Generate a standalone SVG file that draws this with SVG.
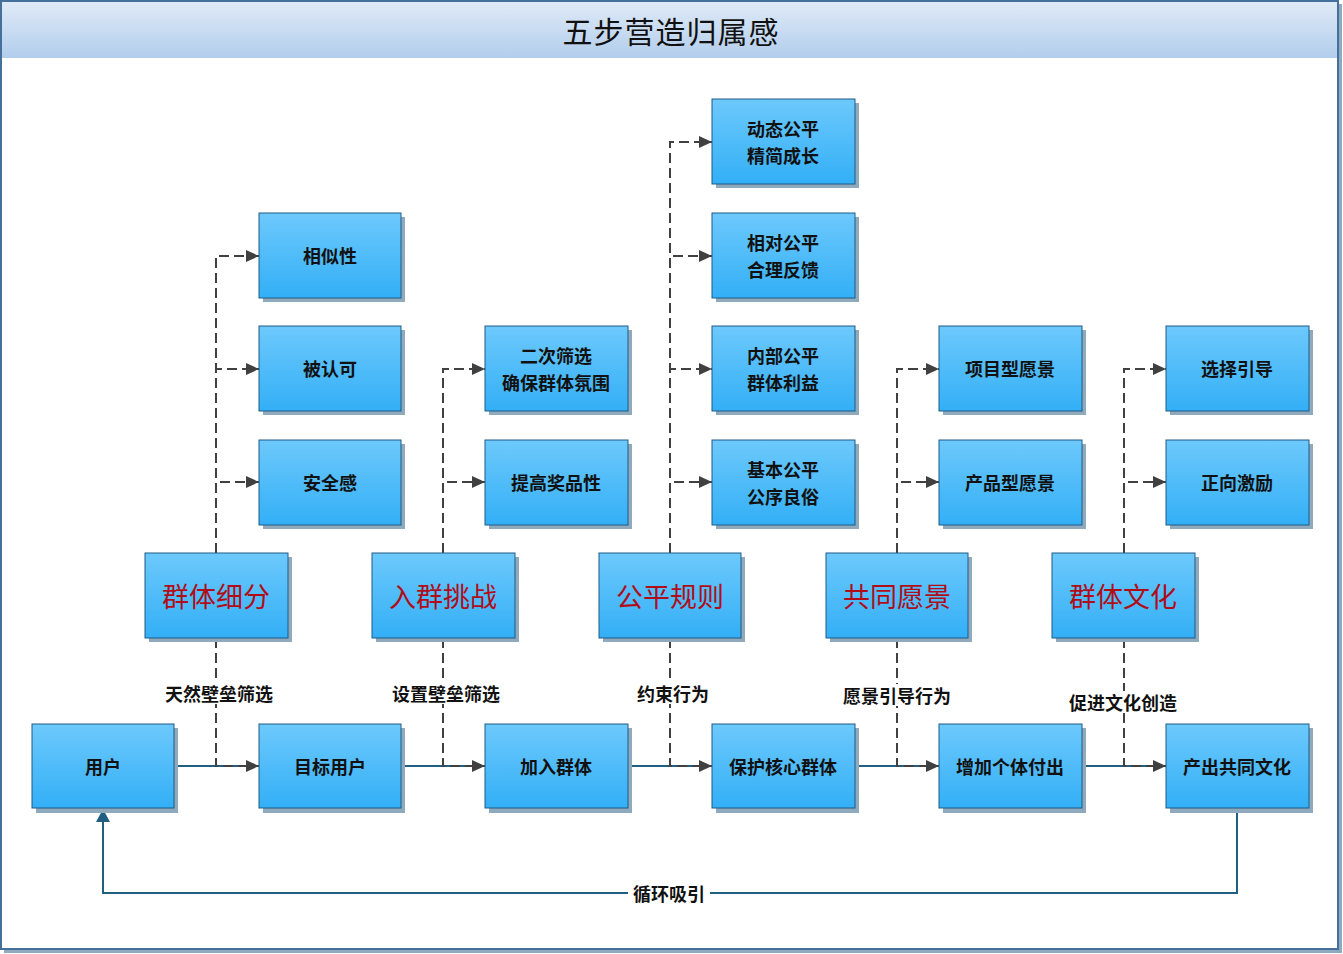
<svg xmlns="http://www.w3.org/2000/svg" width="1343" height="954" viewBox="0 0 1343 954">
<defs>
<linearGradient id="gTitle" x1="0" y1="0" x2="0" y2="1">
<stop offset="0" stop-color="#dfeaf7"/>
<stop offset="1" stop-color="#b2cdec"/>
</linearGradient>
<linearGradient id="gNode" x1="0" y1="0" x2="0" y2="1">
<stop offset="0" stop-color="#6dc9fc"/>
<stop offset="1" stop-color="#33aff6"/>
</linearGradient>
<marker id="aGray" markerUnits="userSpaceOnUse" markerWidth="14" markerHeight="12" refX="13" refY="6" orient="auto">
<path d="M0,0 L13,6 L0,12 z" fill="#404040"/>
</marker>
<marker id="aBlue" markerUnits="userSpaceOnUse" markerWidth="14" markerHeight="14" refX="13" refY="7" orient="auto">
<path d="M0,0 L13,7 L0,14 z" fill="#215f82"/>
</marker>
</defs>
<style>
.shadow{fill:#8fa9bd}
.box{fill:url(#gNode);stroke:#1f5a85;stroke-width:1}
.t{font-family:"Noto Sans CJK SC","Noto Sans",sans-serif;font-size:18px;font-weight:bold;fill:#111;text-anchor:middle;dominant-baseline:central}
.big{font-family:"Noto Sans CJK SC","Noto Sans",sans-serif;font-size:27px;fill:#b00d18;text-anchor:middle;dominant-baseline:central}
.lbl{font-family:"Noto Sans CJK SC","Noto Sans",sans-serif;font-size:18px;font-weight:bold;fill:#111;text-anchor:middle;dominant-baseline:central}
.dash{fill:none;stroke:#404040;stroke-width:2;stroke-dasharray:10 5}
.solid{fill:none;stroke:#215f82;stroke-width:2}
</style>
<rect x="0" y="0" width="1343" height="954" fill="#ffffff"/>
<g id="frame">
<rect x="4" y="4" width="1338" height="949" fill="#8eaac0"/>
<rect x="1" y="1" width="1337" height="948" fill="#ffffff" stroke="#45709c" stroke-width="2"/>
<rect x="2" y="2" width="1335" height="56" fill="url(#gTitle)"/>
<text x="671" y="30" font-family="'Noto Sans CJK SC','Noto Sans',sans-serif" font-size="30" letter-spacing="1" fill="#111" text-anchor="middle" dominant-baseline="central">五步营造归属感</text>
</g>
<g id="connectors">
<path class="solid" d="M174 766 H259"/>
<path class="solid" d="M401 766 H485"/>
<path class="solid" d="M628 766 H712"/>
<path class="solid" d="M855 766 H939"/>
<path class="solid" d="M1082 766 H1166"/>
<path class="dash" d="M216 638 V766 H259" marker-end="url(#aGray)"/>
<path class="dash" d="M443 638 V766 H485" marker-end="url(#aGray)"/>
<path class="dash" d="M670 638 V766 H712" marker-end="url(#aGray)"/>
<path class="dash" d="M897 638 V766 H939" marker-end="url(#aGray)"/>
<path class="dash" d="M1124 638 V766 H1166" marker-end="url(#aGray)"/>
<path class="dash" d="M216 553 V256 H259" marker-end="url(#aGray)"/>
<path class="dash" d="M216 553 V369 H259" marker-end="url(#aGray)"/>
<path class="dash" d="M216 553 V482 H259" marker-end="url(#aGray)"/>
<path class="dash" d="M443 553 V369 H485" marker-end="url(#aGray)"/>
<path class="dash" d="M443 553 V482 H485" marker-end="url(#aGray)"/>
<path class="dash" d="M670 553 V142 H712" marker-end="url(#aGray)"/>
<path class="dash" d="M670 553 V256 H712" marker-end="url(#aGray)"/>
<path class="dash" d="M670 553 V369 H712" marker-end="url(#aGray)"/>
<path class="dash" d="M670 553 V482 H712" marker-end="url(#aGray)"/>
<path class="dash" d="M897 553 V369 H939" marker-end="url(#aGray)"/>
<path class="dash" d="M897 553 V482 H939" marker-end="url(#aGray)"/>
<path class="dash" d="M1124 553 V369 H1166" marker-end="url(#aGray)"/>
<path class="dash" d="M1124 553 V482 H1166" marker-end="url(#aGray)"/>
<path class="solid" d="M1237 808 V893 H103 V809" marker-end="url(#aBlue)"/>
<rect x="158" y="682" width="122" height="22" fill="#fff"/>
<text class="lbl" x="219" y="693">天然壁垒筛选</text>
<rect x="385" y="682" width="122" height="22" fill="#fff"/>
<text class="lbl" x="446" y="693">设置壁垒筛选</text>
<rect x="632" y="682" width="82" height="22" fill="#fff"/>
<text class="lbl" x="673" y="693">约束行为</text>
<rect x="836" y="684" width="122" height="22" fill="#fff"/>
<text class="lbl" x="897" y="695">愿景引导行为</text>
<rect x="1062" y="691" width="122" height="22" fill="#fff"/>
<text class="lbl" x="1123" y="702">促进文化创造</text>
<rect x="628" y="882" width="82" height="22" fill="#fff"/>
<text class="lbl" x="669" y="893">循环吸引</text>
</g>
<g id="n-user"><rect class="shadow" x="36" y="728" width="142" height="85"/><rect class="box" x="32" y="724" width="142" height="84"/><text class="t" x="103" y="766">用户</text></g>
<g id="n-target"><rect class="shadow" x="263" y="728" width="142" height="85"/><rect class="box" x="259" y="724" width="142" height="84"/><text class="t" x="330" y="766">目标用户</text></g>
<g id="n-join"><rect class="shadow" x="489" y="728" width="143" height="85"/><rect class="box" x="485" y="724" width="143" height="84"/><text class="t" x="556" y="766">加入群体</text></g>
<g id="n-protect"><rect class="shadow" x="716" y="728" width="143" height="85"/><rect class="box" x="712" y="724" width="143" height="84"/><text class="t" x="783" y="766">保护核心群体</text></g>
<g id="n-effort"><rect class="shadow" x="943" y="728" width="143" height="85"/><rect class="box" x="939" y="724" width="143" height="84"/><text class="t" x="1010" y="766">增加个体付出</text></g>
<g id="n-culture-out"><rect class="shadow" x="1170" y="728" width="143" height="85"/><rect class="box" x="1166" y="724" width="143" height="84"/><text class="t" x="1237" y="766">产出共同文化</text></g>
<g id="n-segment"><rect class="shadow" x="149" y="557" width="143" height="85"/><rect class="box" x="145" y="553" width="143" height="85"/><text class="big" x="216" y="595">群体细分</text></g>
<g id="n-challenge"><rect class="shadow" x="376" y="557" width="143" height="85"/><rect class="box" x="372" y="553" width="143" height="85"/><text class="big" x="443" y="595">入群挑战</text></g>
<g id="n-fair"><rect class="shadow" x="603" y="557" width="142" height="85"/><rect class="box" x="599" y="553" width="142" height="85"/><text class="big" x="670" y="595">公平规则</text></g>
<g id="n-vision"><rect class="shadow" x="830" y="557" width="142" height="85"/><rect class="box" x="826" y="553" width="142" height="85"/><text class="big" x="897" y="595">共同愿景</text></g>
<g id="n-culture"><rect class="shadow" x="1056" y="557" width="143" height="85"/><rect class="box" x="1052" y="553" width="143" height="85"/><text class="big" x="1123" y="595">群体文化</text></g>
<g id="n-similar"><rect class="shadow" x="263" y="217" width="142" height="85"/><rect class="box" x="259" y="213" width="142" height="85"/><text class="t" x="330" y="255">相似性</text></g>
<g id="n-recog"><rect class="shadow" x="263" y="330" width="142" height="85"/><rect class="box" x="259" y="326" width="142" height="85"/><text class="t" x="330" y="368">被认可</text></g>
<g id="n-safe"><rect class="shadow" x="263" y="444" width="142" height="85"/><rect class="box" x="259" y="440" width="142" height="85"/><text class="t" x="330" y="482">安全感</text></g>
<g id="n-second"><rect class="shadow" x="489" y="330" width="143" height="85"/><rect class="box" x="485" y="326" width="143" height="85"/><text class="t" x="556" y="355">二次筛选</text><text class="t" x="556" y="382">确保群体氛围</text></g>
<g id="n-prize"><rect class="shadow" x="489" y="444" width="143" height="85"/><rect class="box" x="485" y="440" width="143" height="85"/><text class="t" x="556" y="482">提高奖品性</text></g>
<g id="n-dynamic"><rect class="shadow" x="716" y="103" width="143" height="85"/><rect class="box" x="712" y="99" width="143" height="85"/><text class="t" x="783" y="128">动态公平</text><text class="t" x="783" y="155">精简成长</text></g>
<g id="n-relative"><rect class="shadow" x="716" y="217" width="143" height="85"/><rect class="box" x="712" y="213" width="143" height="85"/><text class="t" x="783" y="242">相对公平</text><text class="t" x="783" y="269">合理反馈</text></g>
<g id="n-internal"><rect class="shadow" x="716" y="330" width="143" height="85"/><rect class="box" x="712" y="326" width="143" height="85"/><text class="t" x="783" y="355">内部公平</text><text class="t" x="783" y="382">群体利益</text></g>
<g id="n-basic"><rect class="shadow" x="716" y="444" width="143" height="85"/><rect class="box" x="712" y="440" width="143" height="85"/><text class="t" x="783" y="469">基本公平</text><text class="t" x="783" y="496">公序良俗</text></g>
<g id="n-project"><rect class="shadow" x="943" y="330" width="143" height="85"/><rect class="box" x="939" y="326" width="143" height="85"/><text class="t" x="1010" y="368">项目型愿景</text></g>
<g id="n-product"><rect class="shadow" x="943" y="444" width="143" height="85"/><rect class="box" x="939" y="440" width="143" height="85"/><text class="t" x="1010" y="482">产品型愿景</text></g>
<g id="n-guide"><rect class="shadow" x="1170" y="330" width="143" height="85"/><rect class="box" x="1166" y="326" width="143" height="85"/><text class="t" x="1237" y="368">选择引导</text></g>
<g id="n-incent"><rect class="shadow" x="1170" y="444" width="143" height="85"/><rect class="box" x="1166" y="440" width="143" height="85"/><text class="t" x="1237" y="482">正向激励</text></g>
</svg>
